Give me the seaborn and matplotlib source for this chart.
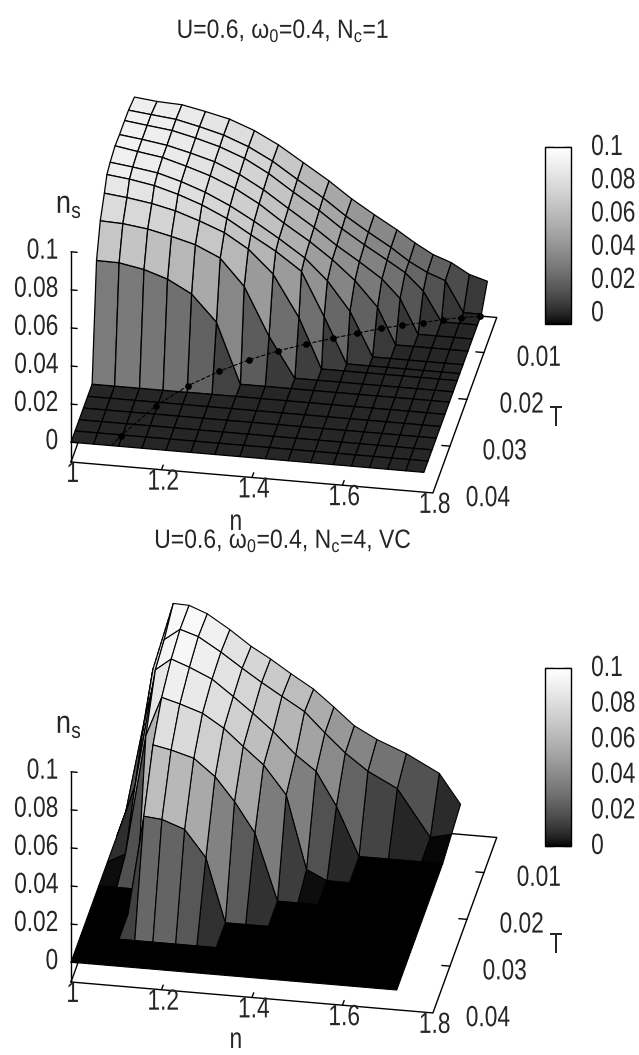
import numpy as np
import pandas as pd
import matplotlib
matplotlib.use('Agg')
import matplotlib.pyplot as plt
import seaborn as sns
from matplotlib.cm import ScalarMappable
from matplotlib.colors import ListedColormap, Normalize
from matplotlib.patheffects import AbstractPathEffect
from matplotlib.transforms import Affine2D
from mpl_toolkits.mplot3d import proj3d

n_ticks = [1, 1.2, 1.4, 1.6, 1.8]
n_ticklabels = ['1', '1.2', '1.4', '1.6', '1.8']
T_ticks = [0.01, 0.02, 0.03, 0.04]
z_ticks = [0, 0.02, 0.04, 0.06, 0.08, 0.1]
z_ticklabels = ['0', '0.02', '0.04', '0.06', '0.08', '0.1']

# upper panel, Nc=1
n_top = [1.0, 1.05, 1.105, 1.157, 1.21, 1.265, 1.318, 1.373, 1.43,
         1.48, 1.53, 1.58, 1.62, 1.66, 1.70, 1.74, 1.78]
T_top = [0.04, 0.0376, 0.0352, 0.0327, 0.0302, 0.0276, 0.025, 0.0228,
         0.0204, 0.0189, 0.017, 0.0141, 0.0115, 0.0085, 0.0062, 0.0027]
ns_top = [
    [0] * 17,
    [0] * 17,
    [0] * 17,
    [0] * 17,
    [0] * 17,
    [0] * 17,
    [58.6, 58.4, 56, 52, 45.3, 31.6, 0, 0, 0, 0, 0, 0, 0, 0, 0, 0, 0],
    [74, 73.5, 71.8, 69, 65.7, 59.8, 46.1, 21, 0, 0, 0, 0, 0, 0, 0, 0, 0],
    [82.6, 81.3, 79.3, 76.5, 72.3, 67.3, 59.7, 47.7, 26.1, 0, 0, 0, 0, 0, 0, 0, 0],
    [88.7, 87.3, 85, 81.5, 77, 71, 63.5, 56, 46.6, 24, 0, 0, 0, 0, 0, 0, 0],
    [90.5, 89, 87, 83.5, 79, 73, 66, 58, 49, 38, 23, 0, 0, 0, 0, 0, 0],
    [92, 90, 88, 84.5, 80.5, 75, 68, 59, 50.5, 42, 32, 19, 0, 0, 0, 0, 0],
    [91.5, 90, 88, 85, 81.5, 76, 69, 60.3, 51.5, 43, 35.5, 27.5, 18, 0, 0, 0, 0],
    [91.5, 90, 88.4, 85.5, 82, 77, 70.2, 61.5, 53, 44.5, 37, 30, 24.2, 15.4, 0, 0, 0],
    [91.3, 90, 88.6, 85.8, 82.5, 77.5, 71, 62.5, 54, 45.5, 38, 31, 24.5, 19.5, 16, 0, 0],
    [89.6, 88.3, 87.7, 85.2, 82.3, 77.4, 71, 62.8, 54.3, 45.9, 38.6, 31.7, 25.6, 20.3, 16.9, 11.5, 8.7],
]
n_tc = [1.09, 1.102, 1.154, 1.207, 1.2625, 1.318, 1.373, 1.428, 1.481,
        1.529, 1.575, 1.619, 1.661, 1.701, 1.74, 1.779]
T_tc = [0.04, 0.03775, 0.0309, 0.0262, 0.02268, 0.01975, 0.01737, 0.01548,
        0.01379, 0.01233, 0.01094, 0.00989, 0.009, 0.008, 0.00726, 0.00666]

# lower panel, Nc=4
n_bot = [1.0, 1.04, 1.085, 1.12, 1.16, 1.21, 1.257, 1.30, 1.345, 1.395,
         1.44, 1.485, 1.535, 1.60, 1.673, 1.72]
T_bot = [0.04, 0.0344, 0.0291, 0.0237, 0.0186, 0.013, 0.0078, 0.0025]
ns_bot = [
    [0] * 16,
    [0] * 16,
    [0, 0, 0, 52.3, 51.4, 47.2, 33.3, 0, 0, 0, 0, 0, 0, 0, 0, 0],
    [0, 0, 0, 76.5, 74.6, 71.3, 62.6, 50.4, 34.8, 0, 0, 0, 0, 0, 0, 0],
    [0, 5, 68, 88.9, 86.3, 82.4, 75.5, 66.8, 58, 43.3, 5, 0, 0, 0, 0, 0],
    [0, 27, 88.9, 95.3, 91.8, 86.6, 78.4, 70.6, 61.9, 50.6, 42.8, 25.4, 0, 0, 0, 0],
    [0, 47.5, 92, 98.1, 95.1, 88, 80.5, 73.9, 67.5, 60.5, 50.2, 40.6, 32, 24.2, 0, 2.6],
    [0, 62.6, 98, 97.7, 94.1, 86.8, 79, 73.2, 66.4, 59.3, 50.8, 41.9, 35.7, 29.6, 20.7, 5.4],
]

sns.set_style('white')
plt.rcParams['font.family'] = ['Liberation Sans']
plt.rcParams['mathtext.default'] = 'regular'
plt.rcParams['axes.unicode_minus'] = False
# gray ramp with the 1.5 gamma of the original palette
gray = ListedColormap(sns.color_palette('gray', as_cmap=True)(np.linspace(0, 1, 256) ** (1 / 1.5)))

W, H = 639, 1055
FS = 21
SX = 0.78
fig = plt.figure(figsize=(W / 100, H / 100), dpi=100)


class Narrow(AbstractPathEffect):
    # squeeze the glyphs sideways, no condensed font is installed
    def __init__(self, sx=SX, ha='center', left=None):
        self.sx, self.ha, self.left = sx, ha, left

    def draw_path(self, renderer, gc, tpath, affine, rgbFace=None):
        ext = tpath.get_extents()
        k = affine.get_matrix()[0, 0]
        shift = (1 - self.sx) * ext.x1 * k * {'left': 0, 'center': 0.5, 'right': 1}[self.ha]
        squeezed = Affine2D().scale(self.sx, 1) + affine
        if self.left is not None:
            shift = self.left - squeezed.transform((ext.x0, 0))[0]
        renderer.draw_path(gc, tpath, squeezed + Affine2D().translate(shift, 0), rgbFace)


def to_pixels(ax, p):
    ax.apply_aspect()
    x, y, _ = proj3d.proj_transform(*p, ax.get_proj())
    return ax.transData.transform((x, y))


def place_axes(ax, p0, p1, target0, target1):
    # size and move the 3d axes so two data points land on given pixels
    side = 600
    ax.set_position([0, 0, side / W, side / H])
    a, b = to_pixels(ax, p0), to_pixels(ax, p1)
    want = np.hypot(target1[0] - target0[0], target1[1] - target0[1])
    side = side * want / np.hypot(*(b - a))
    ax.set_position([0, 0, side / W, side / H])
    a = to_pixels(ax, p0)
    left = target0[0] - a[0]
    bottom = H - target0[1] - a[1]
    ax.set_position([left / W, bottom / H, side / W, side / H])


def panel(n, T, ns, vmin, px0, px1, lw):
    ax = fig.add_subplot(projection='3d', proj_type='ortho', computed_zorder=False)
    ax.view_init(elev=29, azim=-80)
    ax.set_box_aspect((1, 1, 0.654))
    N, TT = np.meshgrid(n, T)
    Z = np.array(ns, dtype=float) / 1000
    surf = ax.plot_surface(N, TT, Z, rstride=1, cstride=1, cmap=gray,
                           norm=Normalize(vmin, 0.1), shade=False,
                           edgecolor='k', linewidth=lw, zorder=2)
    surf.set_clip_on(False)
    zlow = -0.0104
    ax.set_xlim(1, 1.8, view_margin=0)
    ax.set_ylim(0.04, 0.0025, view_margin=0)
    ax.set_zlim(zlow, 0.1, view_margin=0)
    ax.set_axis_off()

    # base rectangle and z axis
    line = dict(color='k', lw=1.0, clip_on=False)
    ax.plot([1, 1.8, 1.8, 1, 1], [0.04, 0.04, 0.0025, 0.0025, 0.04], [zlow] * 5, zorder=1, **line)
    ax.plot([1, 1], [0.04, 0.04], [zlow, 0.1], zorder=5, **line)
    labels = []
    for z, lab in zip(z_ticks, z_ticklabels):
        ax.plot([1, 1.0135], [0.04, 0.04], [z, z], zorder=5, **line)
        labels.append(((1 - 0.028, 0.04, z), lab, 'right'))
    for v, lab in zip(n_ticks, n_ticklabels):
        if 1 < v < 1.8:
            ax.plot([v, v], [0.04, 0.039], [zlow, zlow], zorder=1, **line)
        labels.append(((v + 0.004, 0.04, zlow - 0.0062), lab, 'center'))
    for v in T_ticks:
        if v < 0.04:
            ax.plot([1.8, 1.782], [v, v], [zlow, zlow], zorder=1, **line)
        labels.append(((1.8 + 0.17, v, zlow + 0.0007), f'{v:g}', 'right'))
    place_axes(ax, (1, 0.04, zlow), (1.8, 0.04, zlow), px0, px1)
    for p, lab, ha in labels:
        x, y = to_pixels(ax, p)
        t = fig.text(x / W, y / H, lab, ha=ha, va='center', fontsize=FS)
        t.set_path_effects([Narrow(ha=ha)])
    return ax


ax1 = panel(n_top, T_top, ns_top, -0.0065, (71, 462), (433, 492), 0.9)
ax1.plot(n_tc, T_tc, [0] * len(n_tc), color='k', ls='--', lw=0.8, zorder=6)
ax1.plot(n_tc[1:], T_tc[1:], [0] * (len(n_tc) - 1), 'o', color='k', ms=3.8, zorder=7)

ax2 = panel(n_bot, T_bot, ns_bot, 0, (71, 982), (433, 1012), 0.8)
ax2.plot([n_bot[0]] + n_bot[:3], [T_bot[-2]] + [T_bot[-1]] * 3,
         [0] + [v / 1000 for v in ns_bot[-1][:3]],
         color='k', ls='--', lw=0.7, zorder=6)


def colorbar(top, bottom, cmin):
    ax = fig.add_axes([545 / W, 1 - bottom / H, 26 / W, (bottom - top) / H])
    cb = fig.colorbar(ScalarMappable(Normalize(cmin, 0.1), gray), cax=ax)
    ax.set_ylim(cmin, 0.1)
    cb.set_ticks(z_ticks)
    ax.tick_params(axis='y', which='major', direction='in', left=True, right=True,
                   length=6, width=1, labelleft=False, labelright=False)
    cb.outline.set_linewidth(1)
    cb.outline.set_edgecolor('k')
    for z, lab in zip(z_ticks, z_ticklabels):
        t = ax.text((637 - 545) / 26, z, lab, transform=ax.get_yaxis_transform(),
                    ha='right', va='center', fontsize=FS, clip_on=False)
        t.set_path_effects([Narrow(left=592)])


colorbar(147, 324, -0.0065)
colorbar(668, 846, 0)


def px_text(x, y, s, size=FS, sx=SX):
    t = fig.text(x / W, 1 - y / H, s, ha='center', va='center', fontsize=size)
    t.set_path_effects([Narrow(sx)])


px_text(283, 31, r'U=0.6, $\omega_0$=0.4, N$_c$=1', 19, 0.87)
px_text(283, 541, r'U=0.6, $\omega_0$=0.4, N$_c$=4, VC', 19, 0.87)
px_text(69, 205, r'n$_s$', 23, 0.85)
px_text(69, 725, r'n$_s$', 23, 0.85)
px_text(236, 522, 'n')
px_text(236, 1040, 'n')
px_text(556, 418, 'T')
px_text(556, 945, 'T')

fig.savefig('out.png', dpi=100)
